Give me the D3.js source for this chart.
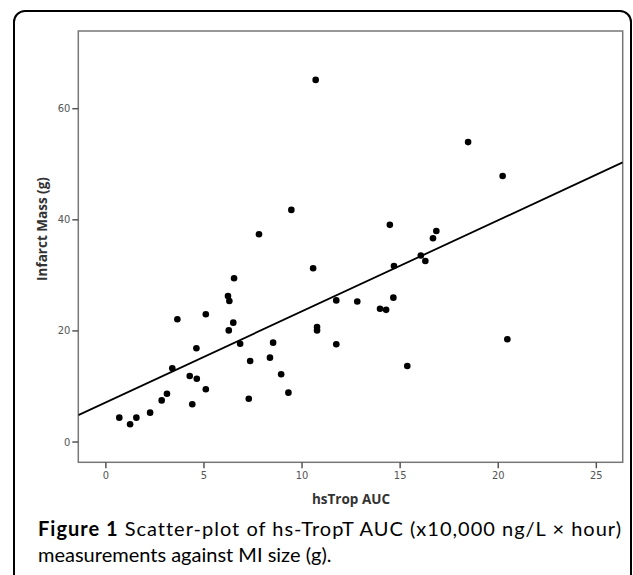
<!DOCTYPE html>
<html>
<head>
<meta charset="utf-8">
<script src="https://cdn.jsdelivr.net/npm/d3@7"></script>
<style>
html,body{margin:0;padding:0;background:#fff;}
svg{display:block;}
text{font-variant-ligatures:none;}
</style>
</head>
<body>
<svg id="chart" width="633" height="575"></svg>
<script>
// hsTrop AUC (x10,000 ng/L x hour)
const aucValues = [0.71,1.26,1.58,2.28,2.87,3.14,3.41,3.67,4.30,4.66,4.43,5.12,4.64,5.12,6.25,6.32,6.56,6.52,6.29,6.87,7.38,7.31,8.55,8.39,8.96,9.33,9.48,14.50,16.87,16.70,16.08,16.31,14.71,10.59,11.77,12.84,14.68,14.00,14.31,10.79,10.79,11.77,15.39,20.49,18.49,20.25,7.83,10.72];
// Infarct mass (g)
const massValues = [4.3,3.1,4.3,5.2,7.4,8.6,13.2,22.0,11.8,11.3,6.7,9.4,16.8,22.9,26.2,25.3,29.4,21.4,20.0,17.6,14.5,7.7,17.8,15.1,12.1,8.8,41.7,39.0,37.9,36.6,33.5,32.5,31.6,31.2,25.4,25.2,25.9,23.9,23.7,20.6,20.0,17.5,13.6,18.4,53.9,47.8,37.3,65.1];
const xTicks = [0,5,10,15,20,25];
const yTicks = [0,20,40,60];
const fitLine = [7.0, 1.64]; // intercept, slope
const xDomain = [-1.38, 26.37];
const yDomain = [-3.74, 73.9];
const xLabel = "hsTrop AUC";
const yLabel = "Infarct Mass (g)";
const captionBold = "Figure 1";
const captionLine1 = " Scatter-plot of hs-TropT AUC (x10,000 ng/L \u00d7 hour)";
const captionLine2 = "measurements against MI size (g).";

const svg = d3.select("#chart");
const L = 78.3, R = 622.7, T = 31, B = 462.3;
const x = d3.scaleLinear().domain(xDomain).range([L, R]);
const y = d3.scaleLinear().domain(yDomain).range([B, T]);

// outer rounded border
svg.append("rect").attr("x",14).attr("y",11).attr("width",617).attr("height",620)
  .attr("rx",11).attr("fill","none").attr("stroke","#000").attr("stroke-width",2);

// frame
svg.append("rect").attr("x",L).attr("y",T).attr("width",R-L).attr("height",B-T)
  .attr("fill","none").attr("stroke","#777").attr("stroke-width",1.5);

const tickFont = "'DejaVu Sans Condensed','DejaVu Sans',sans-serif";
const xAxis = svg.append("g").attr("transform",`translate(0,${B})`)
  .call(d3.axisBottom(x).tickValues(xTicks).tickSize(6).tickPadding(3).tickFormat(d3.format("d")));
const yAxis = svg.append("g").attr("transform",`translate(${L},0)`)
  .call(d3.axisLeft(y).tickValues(yTicks).tickSize(6).tickPadding(2).tickFormat(d3.format("d")));
[xAxis,yAxis].forEach(g=>{
  g.select(".domain").remove();
  g.selectAll(".tick line").attr("stroke","#555").attr("stroke-width",1.5);
  g.selectAll(".tick text").attr("fill","#555").style("font-family",tickFont).style("font-size","11px");
});

// regression line
svg.append("defs").append("clipPath").attr("id","clip")
  .append("rect").attr("x",L).attr("y",T).attr("width",R-L).attr("height",B-T);
svg.append("line")
  .attr("clip-path","url(#clip)")
  .attr("x1",x(xDomain[0])).attr("y1",y(fitLine[0]+fitLine[1]*xDomain[0]))
  .attr("x2",x(xDomain[1])).attr("y2",y(fitLine[0]+fitLine[1]*xDomain[1]))
  .attr("stroke","#000").attr("stroke-width",1.8);

// points
svg.append("g").selectAll("circle").data(aucValues.map((v,i)=>[v,massValues[i]]))
  .join("circle").attr("cx",d=>x(d[0])).attr("cy",d=>y(d[1])).attr("r",3.3).attr("fill","#000");

// axis titles
const labFont = "'Open Sans',sans-serif";
svg.append("text").attr("x",351).attr("y",504).attr("text-anchor","middle")
  .style("font-family",labFont).style("font-weight","bold").style("font-size","13.5px").attr("fill","#333").text(xLabel);
svg.append("text").attr("transform","translate(47,229) rotate(-90)").attr("text-anchor","middle")
  .style("font-family",labFont).style("font-weight","bold").style("font-size","13.5px").attr("fill","#333").text(yLabel);

// caption: fit first line into [capX, capRight]
const capFont = "Lato,'Open Sans',sans-serif";
const capX = 38, capRight = 621;
const cap = svg.append("text").attr("x",capX).attr("y",536)
  .style("font-family",capFont).style("font-size","18px").attr("fill","#000");
cap.append("tspan").style("font-weight","bold").text(captionBold);
cap.append("tspan").text(captionLine1);
const w = cap.node().getComputedTextLength();
const fs = Math.min(20, 18 * (capRight - capX) / w);
cap.style("font-size", fs + "px");
const w2 = cap.node().getComputedTextLength();
if (w2 < capRight - capX) cap.attr("textLength", capRight - capX).attr("lengthAdjust", "spacing");
svg.append("text").attr("x",capX).attr("y",562)
  .style("font-family",capFont).style("font-size",fs + "px").attr("fill","#000").text(captionLine2);
</script>
</body>
</html>
